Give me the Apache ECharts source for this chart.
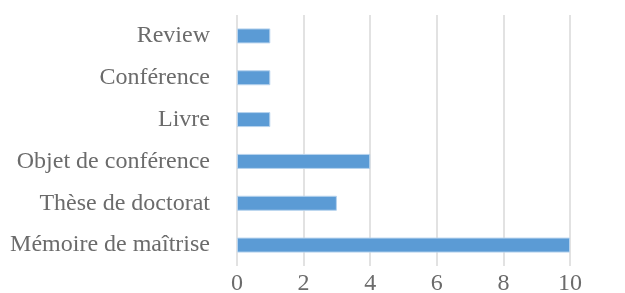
<!DOCTYPE html>
<html>
<head>
<meta charset="utf-8">
<script src="https://cdn.jsdelivr.net/npm/echarts@6/dist/echarts.min.js"></script>
<style>
html, body { margin: 0; padding: 0; background: #fff; }
#chart { width: 625px; height: 293px; }
</style>
</head>
<body>
<div id="chart"></div>
<script>
// catégories (de bas en haut)
var categories = ['Mémoire de maîtrise', 'Thèse de doctorat', 'Objet de conférence', 'Livre', 'Conférence', 'Review'];
var values = [10, 3, 4, 1, 1, 1];
var xTicks = [0, 2, 4, 6, 8, 10];

var chart = echarts.init(document.getElementById('chart'));
var font = '"Liberation Serif", "Times New Roman", serif';

chart.setOption({
    animation: false,
    grid: { left: 237, right: 55, top: 15, bottom: 27, containLabel: false, outerBoundsMode: 'none' },
    xAxis: {
        type: 'value',
        min: xTicks[0],
        max: xTicks[xTicks.length - 1],
        interval: 2,
        axisLine: { show: false },
        axisTick: { show: false },
        splitLine: { show: true, lineStyle: { color: '#d9d9d9', width: 1.5 } },
        axisLabel: { color: '#6b6b6b', fontFamily: font, fontSize: 24, margin: 6 }
    },
    yAxis: {
        type: 'category',
        data: categories,
        axisLine: { show: false },
        axisTick: { show: false },
        axisLabel: { color: '#6b6b6b', fontFamily: font, fontSize: 24, margin: 27 }
    },
    series: [{
        type: 'bar',
        data: values,
        barWidth: 15,
        itemStyle: { color: '#5b9bd5', borderColor: '#b7d3ee', borderWidth: 1 }
    }]
});
</script>
</body>
</html>
